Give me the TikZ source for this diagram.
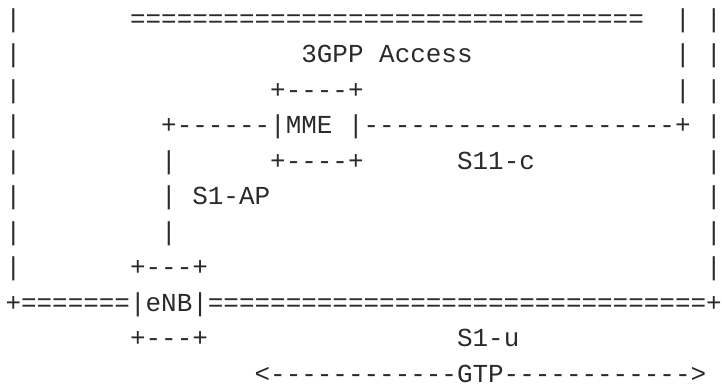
\documentclass[tikz,border=0pt]{standalone}
\usepackage{fontspec}
\setmonofont{Liberation Mono}
\usetikzlibrary{positioning}
\definecolor{ink}{HTML}{2A2A2A}
\newcommand\gap[1]{\hspace*{#1\dimexpr0.6em\relax}}

\begin{document}
\begin{tikzpicture}[x=1pt,y=1pt,node distance=35.5pt,
    row/.style={font=\ttfamily\fontsize{25.95}{26}\selectfont,text=ink,inner sep=0pt,anchor=base west}]
   \useasboundingbox (0,0) rectangle (722,387);
   \node[row] (r1) at (5.3,359.5) {|\gap{7}=================================\gap{2}|\gap{1}|};
   \node[below=of r1.base west,row] (r2) {|\gap{18}3GPP Access\gap{13}|\gap{1}|};
   \node[below=of r2.base west,row] (r3) {|\gap{16}+----+\gap{20}|\gap{1}|};
   \node[below=of r3.base west,row] (r4) {|\gap{9}+------|MME |--------------------+\gap{1}|};
   \node[below=of r4.base west,row] (r5) {|\gap{9}|\gap{6}+----+\gap{6}S11-c\gap{11}|};
   \node[below=of r5.base west,row] (r6) {|\gap{9}| S1-AP\gap{28}|};
   \node[below=of r6.base west,row] (r7) {|\gap{9}|\gap{34}|};
   \node[below=of r7.base west,row] (r8) {|\gap{7}+---+\gap{32}|};
   \node[below=of r8.base west,row] (r9) {+=======|eNB|================================+};
   \node[below=of r9.base west,row] (r10) {\gap{8}+---+\gap{16}S1-u};
   \node[below=of r10.base west,row] (r11) {\gap{16}<------------GTP------------>};
\end{tikzpicture}
\end{document}
